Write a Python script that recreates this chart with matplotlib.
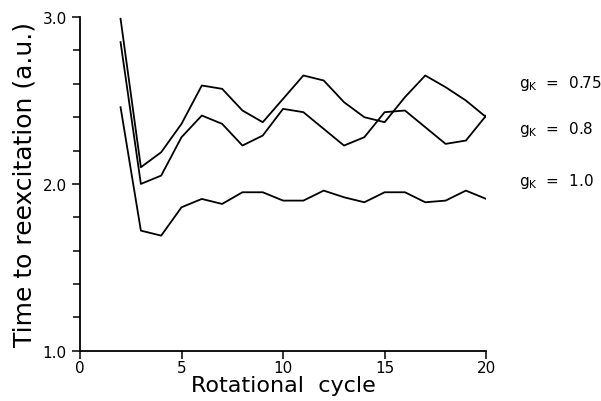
import numpy as np
import matplotlib.pyplot as plt
from matplotlib.ticker import MultipleLocator, FormatStrFormatter

cycles = np.arange(2, 21)

# time to reexcitation for each g_K
g075 = [2.99, 2.10, 2.19, 2.36, 2.59, 2.57, 2.44, 2.37, 2.51, 2.65,
        2.62, 2.49, 2.40, 2.37, 2.52, 2.65, 2.58, 2.50, 2.40]
g080 = [2.85, 2.00, 2.05, 2.28, 2.41, 2.36, 2.23, 2.29, 2.45, 2.43,
        2.33, 2.23, 2.28, 2.43, 2.44, 2.34, 2.24, 2.26, 2.41]
g100 = [2.46, 1.72, 1.69, 1.86, 1.91, 1.88, 1.95, 1.95, 1.90, 1.90,
        1.96, 1.92, 1.89, 1.95, 1.95, 1.89, 1.90, 1.96, 1.91]

labels = [r'g$_\mathregular{K}$  =  0.75', r'g$_\mathregular{K}$  =  0.8',
          r'g$_\mathregular{K}$  =  1.0']
label_y = [2.61, 2.33, 2.02]

fig = plt.figure(figsize=(6.01, 4.02), dpi=100)
ax = fig.add_axes([0.133, 0.125, 0.676, 0.830])

for series in (g075, g080, g100):
    ax.plot(cycles, series, color='black', lw=1.3)

for lab, ly in zip(labels, label_y):
    ax.text(21.6, ly, lab, fontsize=11, va='center', ha='left', clip_on=False)

ax.set_xlim(0, 20)
ax.set_ylim(1.0, 3.0)
ax.xaxis.set_major_locator(MultipleLocator(5))
ax.yaxis.set_major_locator(MultipleLocator(1.0))
ax.yaxis.set_minor_locator(MultipleLocator(0.2))
ax.yaxis.set_major_formatter(FormatStrFormatter('%.1f'))

ax.spines['top'].set_visible(False)
ax.spines['right'].set_visible(False)
ax.spines['left'].set_linewidth(1.3)
ax.spines['bottom'].set_linewidth(1.3)
ax.tick_params(which='both', direction='out', width=1.1, labelsize=11)
ax.tick_params(which='major', length=6)
ax.tick_params(which='minor', length=5)
ax.tick_params(axis='x', pad=1)

ax.set_xlabel('Rotational  cycle', fontsize=16, labelpad=0)
ax.set_ylabel('Time to reexcitation (a.u.)', fontsize=18, labelpad=4)

fig.savefig('out.png', dpi=100)
